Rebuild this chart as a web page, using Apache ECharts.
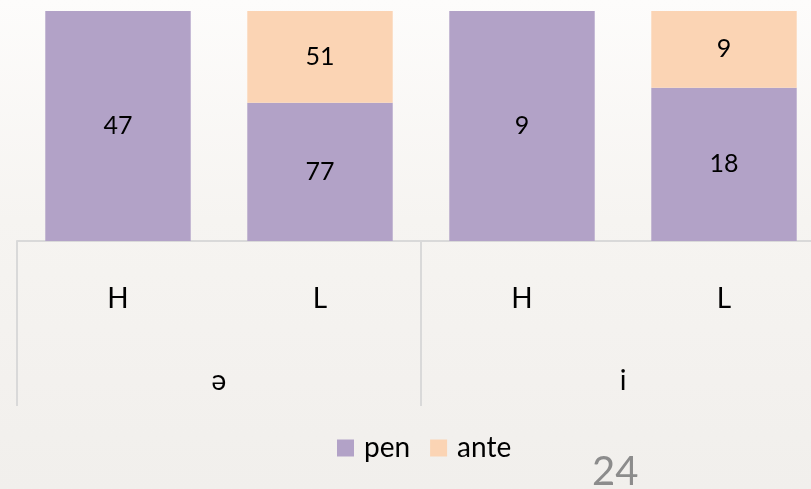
<!DOCTYPE html>
<html>
<head>
<meta charset="utf-8">
<script src="https://cdn.jsdelivr.net/npm/echarts@6/dist/echarts.min.js"></script>
<style>
  html, body { margin: 0; padding: 0; }
  #main { width: 811px; height: 489px; }
</style>
</head>
<body>
<div id="main"></div>
<script>
// 数据
var levels = ['H', 'L', 'H', 'L']
var vowels = ['ə', 'i']
var penValues = [47, 77, 9, 18]
var anteValues = [0, 51, 0, 9]

// 百分比堆叠
var totals = penValues.map(function (v, i) { return v + anteValues[i] })
var penPct = penValues.map(function (v, i) { return v / totals[i] * 100 })
var antePct = anteValues.map(function (v, i) { return v / totals[i] * 100 })

var font = 'Lato, "Open Sans", sans-serif'

function labelOf (raw) {
  return function (p) {
    var v = raw[p.dataIndex]
    return v ? String(v) : ''
  }
}

var option = {
  backgroundColor: {
    type: 'linear', x: 0, y: 0, x2: 0, y2: 1,
    colorStops: [
      { offset: 0, color: '#FDFCFB' },
      { offset: 0.45, color: '#F6F4F1' },
      { offset: 1, color: '#F1EFEC' }
    ]
  },
  animation: false,
  grid: { left: 17, width: 808, top: 11, height: 230, outerBoundsMode: 'none', containLabel: false },
  legend: {
    left: 332,
    top: 429,
    itemWidth: 17,
    itemHeight: 17,
    itemGap: 20,
    icon: 'rect',
    textStyle: { fontFamily: font, fontSize: 28, color: '#000', padding: [0, 0, 0, 5] },
    data: ['pen', 'ante']
  },
  xAxis: [{
    type: 'category',
    data: levels,
    axisLine: { lineStyle: { color: '#D9D9D9', width: 2 } },
    axisTick: { show: false },
    axisLabel: { margin: 44, fontFamily: font, fontSize: 28, color: '#000' }
  }, {
    type: 'category',
    data: vowels,
    position: 'bottom',
    axisLine: { show: false },
    axisTick: { show: true, length: 165, lineStyle: { color: '#D9D9D9', width: 2 } },
    axisLabel: { margin: 126, fontFamily: font, fontSize: 28, color: '#000' }
  }],
  yAxis: {
    type: 'value',
    min: 0,
    max: 100,
    show: false,
    splitLine: { show: false }
  },
  series: [{
    name: 'pen',
    type: 'bar',
    stack: 'total',
    barWidth: '72%',
    data: penPct,
    itemStyle: { color: '#B2A2C7' },
    label: {
      show: true,
      position: 'inside',
      formatter: labelOf(penValues),
      fontFamily: font,
      fontSize: 25,
      color: '#000'
    }
  }, {
    name: 'ante',
    type: 'bar',
    stack: 'total',
    barWidth: '72%',
    data: antePct,
    itemStyle: { color: '#FBD4B4' },
    label: {
      show: true,
      position: 'inside',
      formatter: labelOf(anteValues),
      fontFamily: font,
      fontSize: 25,
      color: '#000'
    }
  }],
  graphic: [{
    type: 'text',
    left: 592,
    top: 452,
    style: { text: '24', font: '40px ' + font, fill: '#8C8C8C' }
  }]
}

echarts.init(document.getElementById('main')).setOption(option)
</script>
</body>
</html>
